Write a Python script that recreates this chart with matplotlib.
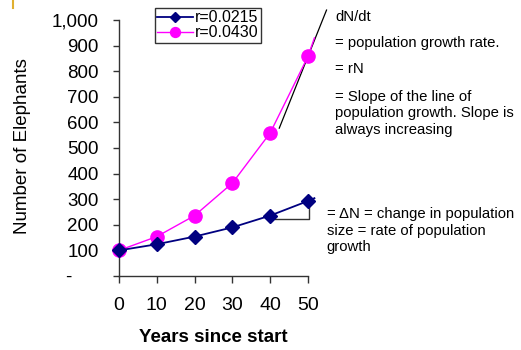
import matplotlib
matplotlib.use('Agg')
import matplotlib.pyplot as plt
from matplotlib.ticker import FuncFormatter
from matplotlib.lines import Line2D

plt.rcParams['font.family'] = ['Liberation Sans', 'DejaVu Sans']

# elephant numbers, start = 100, N = 100*e^(rt)
years = [0, 10, 20, 30, 40, 50]
slow = [100, 124, 154, 190, 236, 293]     # r=0.0215
fast = [100, 154, 236, 363, 559, 858]     # r=0.0430
# lines run on a little past the last year
tail_year = 51.7
slow_tail = 304
fast_tail = 930
r_fast = 0.0430
labels = ['r=0.0215', 'r=0.0430']
yticks = [0, 100, 200, 300, 400, 500, 600, 700, 800, 900, 1000]

fig = plt.figure(figsize=(5.21, 3.5), dpi=100)
ax = fig.add_axes([119/521, 1-276/350, 189/521, 256/350])

ax.plot(years + [tail_year], slow + [slow_tail], color='#000080', lw=1.3,
        marker='D', ms=7, markevery=list(range(6)), clip_on=False, zorder=4, label=labels[0])
ax.plot(years + [tail_year], fast + [fast_tail], color='#FF00FF', lw=1.0,
        marker='o', ms=9.5, markevery=list(range(6)), clip_on=False, zorder=3, label=labels[1])

# tangent at year 50, slope dN/dt = rN
slope = r_fast * fast[5]
tx = [42.4, 54.9]
ax.plot(tx, [fast[5] + slope*(x-50) for x in tx], color='black', lw=0.9, clip_on=False, zorder=2)

# rise over run between years 40 and 50
ax.plot([41.3, 50.3, 50.3], [221, 221, slow[5]], color='#333333', lw=1.0, clip_on=False, zorder=2)

ax.set_xlim(0, 50)
ax.set_ylim(0, 1000)
ax.set_xticks(years)
ax.set_yticks(yticks)
ax.yaxis.set_major_formatter(FuncFormatter(lambda v, p: '-     ' if v == 0 else f'{int(v):,}'))
for s in ['top', 'right']:
    ax.spines[s].set_visible(False)
for s in ['left', 'bottom']:
    ax.spines[s].set_color('#333333')
    ax.spines[s].set_linewidth(1.0)
ax.tick_params(axis='y', direction='out', length=4.5, width=1.0, color='#333333', labelsize=13.5, pad=10)
ax.tick_params(axis='x', direction='out', length=5, width=1.0, color='#333333', labelsize=14, pad=10)

fig.text(23/521, 1-146/350, 'Number of Elephants', rotation=90, fontsize=13.5,
         ha='center', va='center')
fig.text(213/521, 1-337/350, 'Years since start', fontsize=13.5, fontweight='bold',
         ha='center', va='center')

leg = ax.legend(loc='upper left', bbox_to_anchor=(155/521, 1-8/350), bbox_transform=fig.transFigure,
                fontsize=11.5, frameon=True, fancybox=False, borderaxespad=0, borderpad=0.15,
                handletextpad=0.15, labelspacing=0.0, handlelength=2.2, markerscale=0.75)
leg.get_frame().set_edgecolor('black')
leg.get_frame().set_linewidth(1.0)

notes = [
    (335, 16.7, 'dN/dt'),
    (335, 42.7, '= population growth rate.'),
    (335, 69, '= rN'),
    (335, 113.5, '= Slope of the line of\npopulation growth. Slope is\nalways increasing'),
    (326.7, 230.5, '= \u0394N = change in population\nsize = rate of population\ngrowth'),
]
for x, y, s in notes:
    fig.text(x/521, 1-y/350, s, fontsize=10.7, ha='left', va='center', linespacing=1.25)

# small mark at the top left corner
fig.add_artist(Line2D([13/521, 13/521], [1-0/350, 1-8/350], color='#E0B030', lw=1.5))

fig.savefig('out.png', dpi=100)
